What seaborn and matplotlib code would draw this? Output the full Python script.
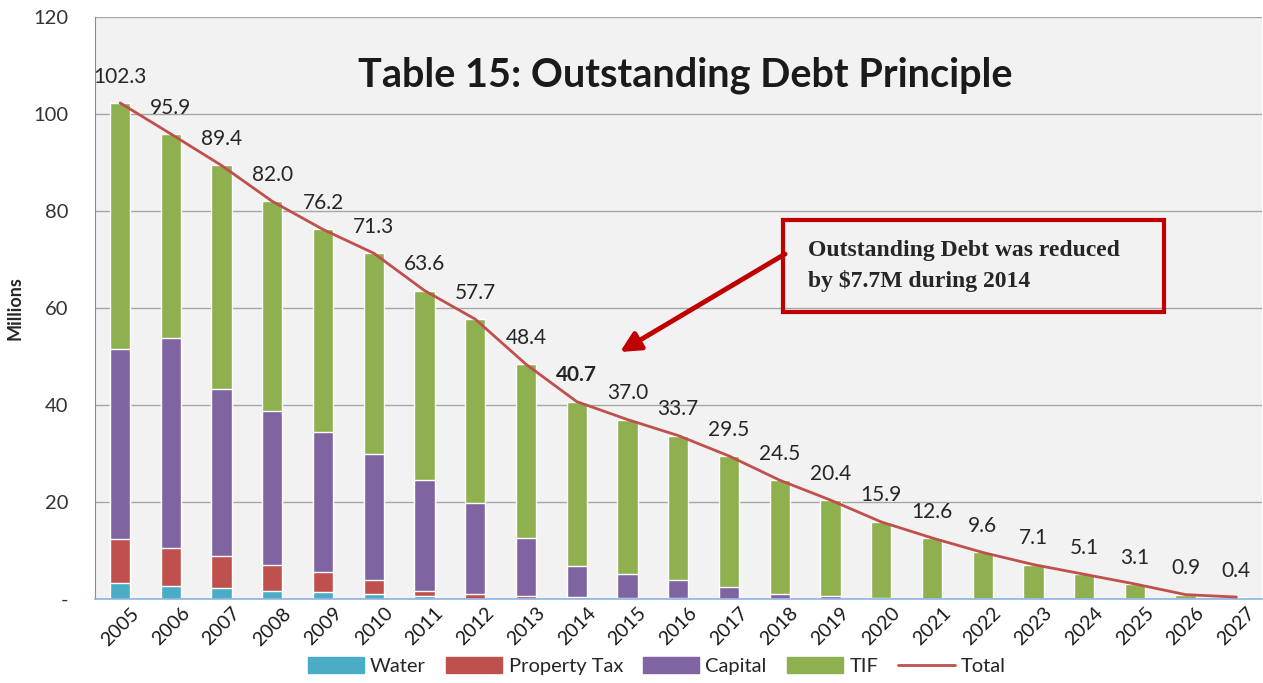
import numpy as np
import pandas as pd
import matplotlib
matplotlib.use("Agg")
import matplotlib.pyplot as plt
import matplotlib.patches as mpatches
import matplotlib.lines as mlines
from matplotlib.ticker import FixedLocator, FuncFormatter
import seaborn as sns

years = [str(y) for y in range(2005, 2028)]
water = [3.2, 2.7, 2.2, 1.7, 1.4, 1.0, 0.6, 0.1, 0.0, 0.0, 0.0, 0.0, 0.0, 0.0,
         0.0, 0.0, 0.0, 0.0, 0.0, 0.0, 0.0, 0.0, 0.0]
property_tax = [9.1, 7.9, 6.7, 5.3, 4.2, 2.9, 1.1, 0.9, 0.6, 0.4, 0.3, 0.2, 0.1,
                0.0, 0.0, 0.0, 0.0, 0.0, 0.0, 0.0, 0.0, 0.0, 0.0]
capital = [39.2, 43.2, 34.5, 31.8, 28.8, 26.1, 22.9, 18.7, 12.0, 6.4, 4.9, 3.7,
           2.4, 1.1, 0.6, 0.3, 0.0, 0.0, 0.0, 0.0, 0.0, 0.0, 0.0]
tif = [50.8, 42.1, 46.0, 43.2, 41.8, 41.3, 39.0, 38.0, 35.8, 33.9, 31.8, 29.8,
       27.0, 23.4, 19.8, 15.6, 12.6, 9.6, 7.1, 5.1, 3.1, 0.9, 0.4]
total = [102.3, 95.9, 89.4, 82.0, 76.2, 71.3, 63.6, 57.7, 48.4, 40.7, 37.0, 33.7,
         29.5, 24.5, 20.4, 15.9, 12.6, 9.6, 7.1, 5.1, 3.1, 0.9, 0.4]
highlight_year = "2014"

series = ["Water", "Property Tax", "Capital", "TIF"]
colors = {"Water": "#4bacc6", "Property Tax": "#c0504d",
          "Capital": "#8064a2", "TIF": "#8fb04f"}
line_color = "#c0504d"


def main():
    sns.set_style("white")
    plt.rcParams["font.family"] = ["Lato", "DejaVu Sans"]

    df = pd.DataFrame({"year": years, "Water": water, "Property Tax": property_tax,
                       "Capital": capital, "TIF": tif})
    # cumulative tops for stacking
    stacked = df[series].cumsum(axis=1)
    stacked["year"] = df["year"]

    fig = plt.figure(figsize=(12.63, 6.83), dpi=100)
    ax = fig.add_axes([0.075, 0.123, 0.924, 0.852])
    ax.set_facecolor("#f2f2f2")

    # draw the tallest layer first so lower layers cover it
    for name in reversed(series):
        sns.barplot(data=stacked, x="year", y=name, color=colors[name],
                    width=0.4, saturation=1, ax=ax, zorder=2)

    pos = np.arange(len(years))
    sns.lineplot(x=pos, y=total, color=line_color, lw=2, ax=ax, zorder=3)

    for i, v in enumerate(total):
        bold = years[i] == highlight_year
        ax.annotate(f"{v:.1f}", (i, v), xytext=(0, 19), textcoords="offset points",
                    ha="center", va="center", fontsize=15, color="#262626",
                    fontweight="bold" if bold else "normal", zorder=4)

    ax.set_ylim(0, 120)
    ax.set_xlim(-0.49, 22.27)
    ax.yaxis.set_major_locator(FixedLocator([0, 20, 40, 60, 80, 100, 120]))
    ax.yaxis.set_major_formatter(FuncFormatter(lambda v, p: "-" if v == 0 else f"{v:.0f}"))
    ax.grid(axis="y", color="#a6a6a6", lw=1, zorder=0)
    ax.set_axisbelow(True)

    for s in ["top", "right"]:
        ax.spines[s].set_visible(False)
    ax.spines["left"].set_color("#8c8c8c")
    ax.spines["bottom"].set_color("#8eb4e3")
    ax.spines["bottom"].set_linewidth(1.2)

    ax.tick_params(axis="y", length=7, color="#8c8c8c", labelsize=14.5, labelcolor="#333333", pad=12)
    ax.set_xticks(pos)
    ax.set_xticklabels(years, rotation=45, ha="center", fontsize=14, color="#1a1a1a")
    ax.tick_params(axis="x", length=0, pad=4)
    ax.set_xticks(np.arange(-0.5, 22.6, 1.0), minor=True)
    ax.tick_params(axis="x", which="minor", length=5, color="#8eb4e3")

    ax.set_xlabel("")
    ax.set_ylabel("Millions", fontsize=13, fontweight="bold", labelpad=7)

    ax.text(0.506, 0.900, "Table 15: Outstanding Debt Principle", transform=ax.transAxes,
            ha="center", va="center", fontsize=28.5, fontweight="bold", color="#1a1a1a")

    # callout box and arrow
    box = mpatches.Rectangle((0.620, 0.543), 0.302, 0.135, transform=fig.transFigure,
                             fill=False, edgecolor="#c00000", lw=3, zorder=5)
    fig.patches.append(box)
    fig.text(0.640, 1 - 266 / 683, "Outstanding Debt was reduced\nby $7.7M during 2014",
             ha="left", va="center", fontsize=17, fontweight="bold",
             family=["Liberation Serif", "DejaVu Serif"], linespacing=1.5)
    ax.annotate("", xy=(620, 683 - 352), xycoords="figure pixels",
                xytext=(785, 683 - 254), textcoords="figure pixels",
                arrowprops=dict(arrowstyle="-|>", color="#c00000", lw=3.5,
                                mutation_scale=30, shrinkA=0, shrinkB=0))

    handles = [mpatches.Patch(color=colors[n], label=n) for n in series]
    handles.append(mlines.Line2D([], [], color=line_color, lw=2, label="Total"))
    fig.legend(handles=handles, loc="lower center", bbox_to_anchor=(0.52, -0.015),
               ncol=5, frameon=False, fontsize=14.5, handlelength=2.8,
               handleheight=0.8, columnspacing=1.0, handletextpad=0.3)

    fig.savefig("out.png", dpi=100, facecolor="white")
    plt.close(fig)


if __name__ == "__main__":
    main()
